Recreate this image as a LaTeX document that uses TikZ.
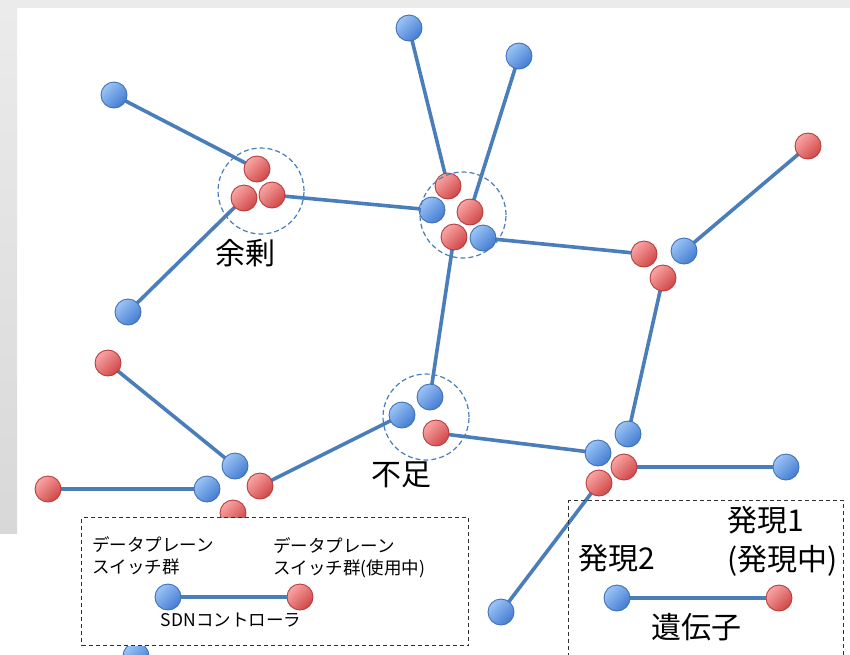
\documentclass[tikz,border=0pt]{standalone}
\usepackage{fontspec}
\setmainfont{Noto Sans CJK JP}
\usetikzlibrary{backgrounds}
\definecolor{linkblue}{HTML}{4A7EBB}
\definecolor{bluelight}{HTML}{9CC4F7}
\definecolor{bluedark}{HTML}{437CD0}
\definecolor{blueedge}{HTML}{3F70B8}
\definecolor{redlight}{HTML}{F9A6A6}
\definecolor{reddark}{HTML}{D04646}
\definecolor{rededge}{HTML}{B83C3C}
\definecolor{slidegray}{HTML}{EBEBEB}
\definecolor{slidegraydark}{HTML}{D8D8D8}
\definecolor{boxgray}{HTML}{303030}
\tikzset{
  bnode/.style={circle, minimum size=26pt, inner sep=0pt, draw=blueedge, line width=0.9pt,
    top color=bluelight, bottom color=bluedark, shading angle=45},
  rnode/.style={circle, minimum size=26pt, inner sep=0pt, draw=rededge, line width=0.9pt,
    top color=redlight, bottom color=reddark, shading angle=45},
  link/.style={draw=linkblue, line width=3.6pt},
  cluster/.style={circle, minimum size=86pt, inner sep=0pt, draw=linkblue, line width=1.2pt,
    dash pattern=on 5pt off 3pt},
  biglabel/.style={inner sep=0pt, font=\fontsize{30}{39}\selectfont, align=left},
  smalllabel/.style={inner sep=0pt, font=\fontsize{17.5}{22}\selectfont, align=left},
  legendbox/.style={draw=boxgray, line width=1.3pt, dash pattern=on 4pt off 3pt, inner sep=0pt}
}
\begin{document}
\begin{tikzpicture}[x=1pt, y=-1pt]
\useasboundingbox (0,0) rectangle (850,654);
% network nodes
\node[bnode] (b1) at (114,95) {};
\node[rnode] (r2a) at (257,169) {};
\node[rnode] (r2b) at (244,198) {};
\node[rnode] (r2c) at (272,195) {};
\node[cluster] (c1) at (261,191) {};
\node[bnode] (b3) at (128,312) {};
\node[bnode] (b4) at (409,28) {};
\node[bnode] (b5) at (519,56) {};
\node[rnode] (r6a) at (448,186) {};
\node[bnode] (b6a) at (432,210) {};
\node[rnode] (r6b) at (470,212) {};
\node[rnode] (r6c) at (454,237) {};
\node[bnode] (b6b) at (483,238) {};
\node[cluster] (c2) at (463,215) {};
\node[rnode] (r7) at (808,146) {};
\node[rnode] (r8a) at (644,254) {};
\node[rnode] (r8b) at (663,278) {};
\node[bnode] (b8) at (684,251) {};
\node[bnode] (b9a) at (430,397) {};
\node[bnode] (b9b) at (402,415) {};
\node[rnode] (r9) at (436,433) {};
\node[cluster] (c3) at (426,417) {};
\node[bnode] (b10a) at (628,434) {};
\node[bnode] (b10b) at (598,453) {};
\node[rnode] (r10a) at (624,467) {};
\node[rnode] (r10b) at (599,483) {};
\node[bnode] (b10c) at (786,467) {};
\node[rnode] (r11) at (108,363) {};
\node[bnode] (b11a) at (235,466) {};
\node[rnode] (r11b) at (260,486) {};
\node[bnode] (b11b) at (207,489) {};
\node[rnode] (r11c) at (48,489) {};
\node[rnode] (r11d) at (233,513) {};
\node[bnode] (b12) at (501,612) {};
\node[bnode] (b13) at (136,656) {};
% labels
\node[biglabel] (lyojo) at (245,253) {余剰};
\node[biglabel] (lfusoku) at (401,475) {不足};
\begin{pgfonlayer}{background}
  \fill[white] (0,0) rectangle (850,654);
  \fill[slidegray] (0,0) rectangle (850,8);
  \shade[top color=slidegray, bottom color=slidegraydark] (0,8) rectangle (17,533);
  \draw[link] (b1.center) -- (r2a.center);
  \draw[link] (r2c.center) -- (b6a.center);
  \draw[link] (r2b.center) -- (b3.center);
  \draw[link] (b4.center) -- (r6a.center);
  \draw[link] (b5.center) -- (r6b.center);
  \draw[link] (b6b.center) -- (r8a.center);
  \draw[link] (r7.center) -- (b8.center);
  \draw[link] (r8b.center) -- (b10a.center);
  \draw[link] (r6c.center) -- (b9a.center);
  \draw[link] (r9.center) -- (b10b.center);
  \draw[link] (b9b.center) -- (r11b.center);
  \draw[link] (r11.center) -- (b11a.center);
  \draw[link] (r11c.center) -- (b11b.center);
  \draw[link] (r10a.center) -- (b10c.center);
  \draw[link] (r10b.center) -- (b12.center);
\end{pgfonlayer}
% left legend
\node[legendbox, fill=white, minimum width=387pt, minimum height=128pt, anchor=north west] (legL) at (81,517) {};
\node[smalllabel, anchor=west] (tl1) at (92,556) {データプレーン\\スイッチ群};
\node[smalllabel, anchor=west] (tl2) at (273,558) {データプレーン\\スイッチ群(使用中)};
\node[bnode] (lb) at (168,597) {};
\node[rnode] (lr) at (300,597) {};
\draw[link] (lb) -- (lr);
\node[smalllabel] (tsdn) at (231,620) {SDNコントローラ};
% right legend
\node[legendbox, minimum width=275pt, minimum height=180pt, anchor=north west] (legR) at (568,500) {};
\node[biglabel, anchor=west] (th1) at (727,541) {発現1\\(発現中)};
\node[biglabel, anchor=west] (th2) at (578,558) {発現2};
\node[bnode] (gb) at (617,598) {};
\node[rnode] (gr) at (779,598) {};
\draw[link] (gb) -- (gr);
\node[biglabel] (tgene) at (696,627) {遺伝子};
\end{tikzpicture}
\end{document}
